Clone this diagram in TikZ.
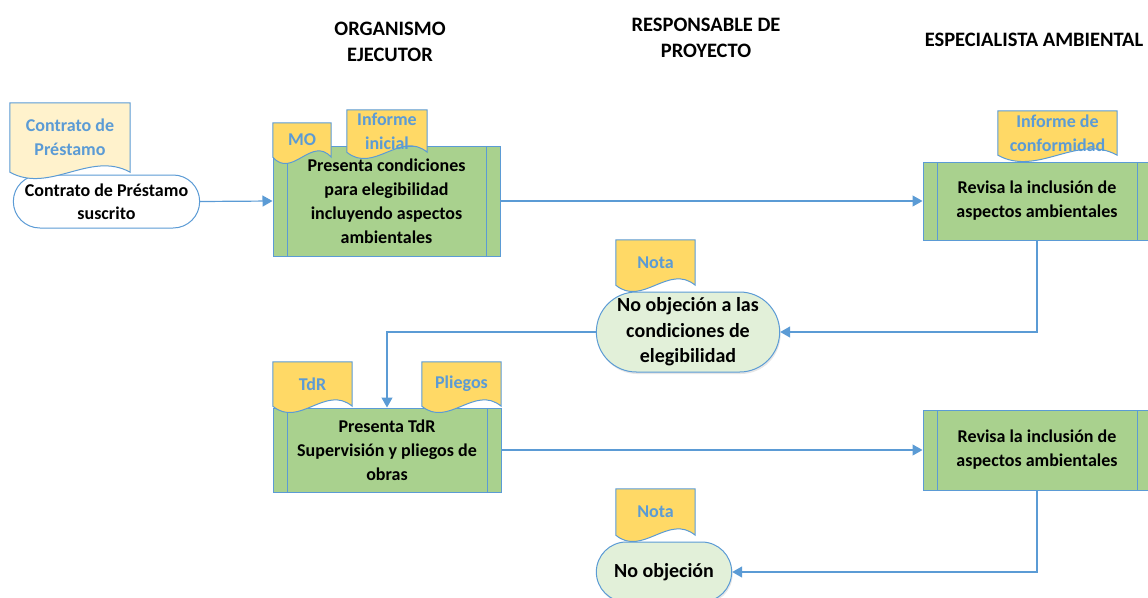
\documentclass[tikz,border=0pt]{standalone}
\usepackage{fontspec}
\setmainfont{Carlito}
\usepackage{tikz}
\usetikzlibrary{shapes, shapes.misc, arrows.meta, positioning, calc, shadows}

\definecolor{lineblue}{RGB}{91,155,213}
\definecolor{procgreen}{RGB}{169,209,142}
\definecolor{docyellow}{RGB}{255,217,102}
\definecolor{paleyellow}{RGB}{255,242,204}
\definecolor{palegreen}{RGB}{226,240,217}

\tikzset{
  docframe/.style={draw=none, inner sep=0pt},
  docline/.style={draw=lineblue, line width=1pt},
  doctext/.style={text=lineblue, font=\bfseries\fontsize{18}{24}\selectfont, align=center, inner sep=0pt},
  procbox/.style={draw=lineblue, line width=1pt, fill=procgreen, align=center,
    font=\bfseries\fontsize{18}{24}\selectfont,
    path picture={
      \draw[lineblue, line width=1pt] ([xshift=14pt]path picture bounding box.north west) -- ([xshift=14pt]path picture bounding box.south west);
      \draw[lineblue, line width=1pt] ([xshift=-14pt]path picture bounding box.north east) -- ([xshift=-14pt]path picture bounding box.south east);
    }},
  endbox/.style={rounded rectangle, draw=lineblue, line width=1pt, align=center,
    font=\bfseries\fontsize{20}{25.5}\selectfont},
  lane/.style={font=\bfseries\fontsize{20.5}{26}\selectfont, align=center},
  flow/.style={draw=lineblue, line width=1.2pt, -{Triangle[length=10pt,width=11pt]}}
}

% document symbol: box with a wavy lower edge and its text
\newcommand{\docnote}[6]{%
  \path (#2) node[docframe, minimum width=#3, minimum height=#4] (#1) {};
  \draw[docline, fill=#5] let \p1=(#1.north west), \p2=(#1.south east), \n2={\x2-\x1} in
    (\p1) -- (\x2,\y1) -- (\p2)
    .. controls ({\x2-\n2/3},{\y2+22}) and ({\x1+\n2/3},{\y2-22}) .. (\x1,\y2) -- cycle;
  \node[doctext] (#1-txt) at (#1.center) {#6};
}

\begin{document}
\begin{tikzpicture}[x=1pt, y=-1pt]
    \useasboundingbox (0,0) rectangle (1148,597);

    % Lanes
    \node[lane] (oe) at (390,42) {ORGANISMO\\EJECUTOR};
    \node[lane] (rp) at (706,38) {RESPONSABLE DE\\PROYECTO};
    \node[lane] (ea) at (1034,40) {ESPECIALISTA AMBIENTAL};

    % Steps
    \node[endbox, fill=white, minimum width=193pt, minimum height=53pt, font=\bfseries\fontsize{18}{23}\selectfont] (start) at (106.5,201.5) {Contrato de Préstamo\\suscrito};
    \node[procbox, minimum width=227pt, minimum height=110pt] (cond) at (386.5,201) {Presenta condiciones\\para elegibilidad\\incluyendo aspectos\\ambientales};
    \node[procbox, minimum width=228pt, minimum height=78pt] (rev1) at (1037,201) {Revisa la inclusión de\\aspectos ambientales};
    \node[endbox, fill=palegreen, drop shadow={opacity=0.2, shadow xshift=1pt, shadow yshift=-2pt}, minimum width=190pt, minimum height=80pt] (noobj1) at (688,332) {No objeción a las\\condiciones de\\elegibilidad};
    \node[procbox, minimum width=228pt, minimum height=84pt] (tdr) at (387,450) {Presenta TdR\\Supervisión y pliegos de\\obras};
    \node[procbox, minimum width=228pt, minimum height=80pt] (rev2) at (1037,450) {Revisa la inclusión de\\aspectos ambientales};
    \node[endbox, fill=palegreen, drop shadow={opacity=0.2, shadow xshift=1pt, shadow yshift=-2pt}, minimum width=142pt, minimum height=60pt] (noobj2) at (664,572) {No objeción};

    % Documents
    \docnote{prest}{70,137.5}{120pt}{69pt}{paleyellow}{Contrato de\\Préstamo}
    \docnote{mo}{302,140}{58pt}{34pt}{docyellow}{MO}
    \docnote{inf}{387,131}{80pt}{42pt}{docyellow}{Informe\\inicial}
    \docnote{conf}{1057.5,133}{119pt}{44pt}{docyellow}{Informe de\\conformidad}
    \docnote{nota1}{655.5,262.5}{79pt}{45pt}{docyellow}{Nota}
    \docnote{tdrdoc}{312.5,384}{79pt}{44pt}{docyellow}{TdR}
    \docnote{pli}{461.5,384}{79pt}{44pt}{docyellow}{Pliegos}
    \docnote{nota2}{655.5,512}{79pt}{46pt}{docyellow}{Nota}

    % Flow
    \draw[flow] (start.east) -- (cond.west);
    \draw[flow] (cond.east) -- (rev1.west);
    \draw[flow] (rev1.south) |- (noobj1.east);
    \draw[flow] (noobj1.west) -| (tdr.north);
    \draw[flow] (tdr.east) -- (rev2.west);
    \draw[flow] (rev2.south) |- (noobj2.east);

  \end{tikzpicture}
\end{document}
